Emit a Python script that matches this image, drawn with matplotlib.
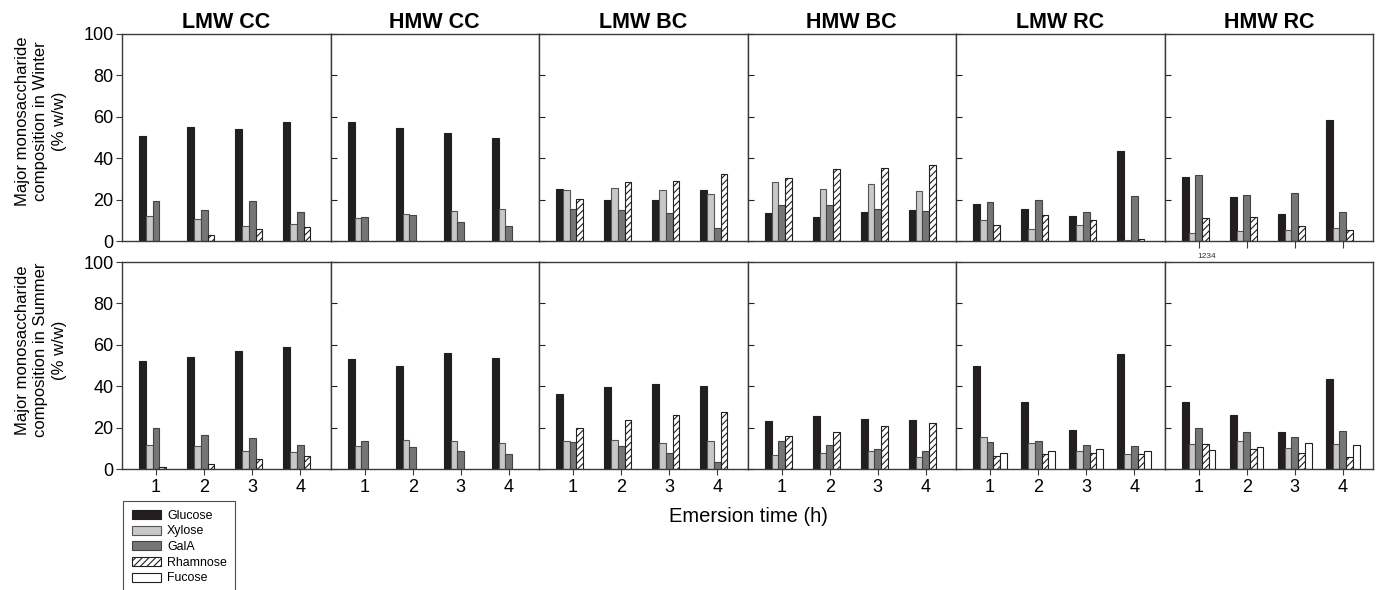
import matplotlib
matplotlib.use("Agg")
import matplotlib.pyplot as plt
from matplotlib.patches import Patch
import numpy as np

plt.rcParams['font.family'] = ['Liberation Sans', 'DejaVu Sans']
plt.rcParams['hatch.linewidth'] = 0.8

panels = ["LMW CC", "HMW CC", "LMW BC", "HMW BC", "LMW RC", "HMW RC"]
times = [1, 2, 3, 4]
sugars = ["Glucose", "Xylose", "GalA", "Rhamnose", "Fucose"]

# Winter values (rows = sugars, cols = emersion time); None = not detected
winter_lmw_cc = [[50.7, 55.3, 54.0, 57.5], [12.0, 10.7, 7.4, 8.2], [19.1, 15.2, 19.5, 13.9], [None, 3.1, 6.0, 6.8], [None, None, None, None]]
winter_hmw_cc = [[57.5, 54.8, 52.2, 49.8], [11.0, 13.2, 14.7, 15.5], [11.8, 12.4, 9.0, 7.4], [None, None, None, None], [None, None, None, None]]
winter_lmw_bc = [[25.0, 19.7, 20.0, 24.7], [24.4, 25.8, 24.4, 22.6], [15.7, 15.2, 13.6, 6.1], [20.5, 28.4, 28.8, 32.6], [None, None, None, None]]
winter_hmw_bc = [[13.4, 11.6, 13.9, 15.2], [28.6, 25.2, 27.3, 24.2], [17.6, 17.6, 15.3, 14.5], [30.2, 34.6, 35.1, 36.5], [None, None, None, None]]
winter_lmw_rc = [[17.8, 15.5, 12.1, 43.3], [10.0, 6.0, 7.6, 0.5], [18.6, 20.0, 14.2, 21.5], [7.9, 12.4, 10.0, 1.0], [None, None, None, None]]
winter_hmw_rc = [[30.9, 21.2, 12.9, 58.5], [3.7, 5.0, 5.5, 6.3], [31.7, 22.0, 23.4, 13.9], [11.0, 11.6, 7.4, 5.2], [None, None, None, None]]

# Summer values
summer_lmw_cc = [[52.1, 54.2, 57.1, 58.9], [11.7, 11.0, 8.7, 8.3], [19.9, 16.5, 14.9, 11.5], [1.0, 2.4, 4.9, 6.3], [None, None, None, None]]
summer_hmw_cc = [[52.9, 50.0, 55.8, 53.6], [11.3, 14.1, 13.3, 12.6], [13.6, 10.5, 8.7, 7.3], [None, None, None, None], [None, None, None, None]]
summer_lmw_bc = [[36.0, 39.7, 41.3, 40.2], [13.7, 14.0, 12.7, 13.4], [13.1, 11.0, 7.7, 3.4], [19.7, 23.7, 26.0, 27.4], [None, None, None, None]]
summer_hmw_bc = [[23.4, 25.8, 24.2, 23.7], [6.8, 7.7, 8.7, 5.6], [13.7, 11.8, 9.5, 8.7], [15.8, 17.7, 20.6, 22.4], [None, None, None, None]]
summer_lmw_rc = [[49.8, 32.6, 18.9, 55.6], [15.6, 12.7, 8.7, 7.1], [12.9, 13.7, 11.5, 11.0], [6.5, 7.1, 7.6, 7.1], [7.6, 8.7, 9.7, 8.9]]
summer_hmw_rc = [[32.3, 26.1, 17.7, 43.4], [11.9, 13.4, 10.3, 11.9], [19.7, 18.1, 15.3, 18.4], [11.9, 9.7, 7.7, 5.6], [9.0, 10.6, 12.6, 11.8]]

winter = [winter_lmw_cc, winter_hmw_cc, winter_lmw_bc, winter_hmw_bc, winter_lmw_rc, winter_hmw_rc]
summer = [summer_lmw_cc, summer_hmw_cc, summer_lmw_bc, summer_hmw_bc, summer_lmw_rc, summer_hmw_rc]
row_labels = ["Major monosaccharide\ncomposition in Winter\n(% w/w)",
              "Major monosaccharide\ncomposition in Summer\n(% w/w)"]
yticks = [0, 20, 40, 60, 80, 100]

face = ["#231f20", "#c8c8c8", "#767676", "white", "white"]
edge = ["#231f20", "#555555", "#444444", "#231f20", "#231f20"]
hatches = [None, None, None, "/////", None]

W, H = 1381, 590
fig = plt.figure(figsize=(W / 100, H / 100), dpi=100)

lefts = [122 + i * 208.5 for i in range(6)]
pw = 208.5
rows_px = [(34, 241), (262, 469)]
label_y = [121, 350]
bw = 0.14
spine_col = "#3a3a3a"

for r, data in enumerate([winter, summer]):
    top, bot = rows_px[r]
    for p in range(6):
        ax = fig.add_axes([lefts[p] / W, 1 - bot / H, pw / W, (bot - top) / H])
        vals = data[p]
        x = np.array(times, dtype=float)
        for s in range(5):
            v = vals[s]
            xs = [xi + (s - 2) * bw for xi, vi in zip(x, v) if vi is not None]
            hs = [vi for vi in v if vi is not None]
            if xs:
                ax.bar(xs, hs, width=bw, color=face[s], edgecolor=edge[s],
                       linewidth=0.8, hatch=hatches[s], zorder=2)
        ax.set_xlim(0.29, 4.63)
        ax.set_ylim(0, 100)
        for sp in ax.spines.values():
            sp.set_color(spine_col)
            sp.set_linewidth(1.0)
        ax.set_yticks(yticks)
        if p == 0:
            ax.tick_params(axis='y', direction='out', length=4, labelsize=13,
                           color=spine_col, pad=2)
        else:
            ax.tick_params(axis='y', direction='in', length=4, labelleft=False,
                           color='#222222')
        if r == 1:
            ax.set_xticks(times)
            ax.set_xticklabels([str(t) for t in times])
            ax.tick_params(axis='x', direction='out', length=4, labelsize=13,
                           color=spine_col, pad=3)
        elif p == 5:
            ax.set_xticks(times)
            ax.tick_params(axis='x', direction='out', length=5, labelbottom=False,
                           color=spine_col)
        else:
            ax.set_xticks([])
        if r == 0:
            ax.set_title(panels[p], fontsize=15.5, fontweight='bold', pad=4)
    fig.text(41 / W, 1 - label_y[r] / H, row_labels[r], rotation=90, fontsize=12,
             ha='center', va='center', linespacing=1.3, multialignment='center')

fig.text(1207 / W, 1 - 257 / H, "1234", fontsize=6, ha='center', va='center', color='#333333')
fig.text(748 / W, 1 - 517 / H, "Emersion time (h)", fontsize=14.5, ha='center', va='center')

handles = [Patch(facecolor=face[s], edgecolor=edge[s], hatch=hatches[s], linewidth=0.8)
           for s in range(5)]
leg = fig.legend(handles, sugars, loc='upper left', bbox_to_anchor=(123 / W, 1 - 501 / H),
                 fontsize=8.9, frameon=True, fancybox=False, handlelength=2.35,
                 handleheight=0.75, labelspacing=0.3, handletextpad=0.5,
                 borderpad=0.7, borderaxespad=0)
leg.get_frame().set_edgecolor('#222222')
leg.get_frame().set_linewidth(0.8)

fig.savefig("out.png", dpi=100)
